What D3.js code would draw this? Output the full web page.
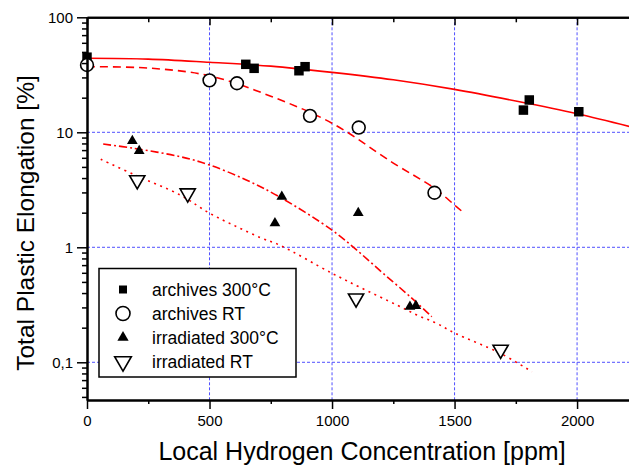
<!DOCTYPE html>
<html>
<head>
<meta charset="utf-8">
<script src="https://cdn.jsdelivr.net/npm/d3@7"></script>
<style>
  body { margin: 0; background: #fff; }
  text { font-family: "Liberation Sans", Arial, sans-serif; }
</style>
</head>
<body>
<div id="chart"></div>
<script>
// measured points [H ppm, elongation %]
const archives300 = [[0,45],[648,39],[682,36],[865,34.3],[890,37.2],[1781,15.6],[1805,19.1],[2007,15.1]];
const archivesRT = [[0,38.5],[500,28.3],[612,26.7],[910,13.9],[1109,11.0],[1418,2.98]];
const irradiated300 = [[185,8.4],[213,6.9],[795,2.75],[767,1.62],[1107,1.99],[1318,0.304],[1342,0.31]];
const irradiatedRT = [[205,3.84],[411,2.95],[1098,0.36],[1688,0.129]];

// fitted trend lines
const fitArchives300 = [[0,44],[250,43.3],[500,40.6],[750,37.6],[1000,33.2],[1250,28.6],[1500,23.6],[1750,18.7],[2000,14.5],[2216,11.2]];
const fitArchivesRT = [[0,37.2],[250,36.2],[500,31],[750,20.6],[1000,12],[1250,5.4],[1418,3.26],[1500,2.33],[1532,2.04]];
const fitIrr300 = [[66,7.9],[190,7.26],[380,6.14],[500,5.2],[650,3.85],[790,2.71],[1000,1.41],[1100,0.95],[1210,0.59],[1320,0.37],[1407,0.249]];
const fitIrrRT = [[56,5.82],[196,4.25],[380,2.85],[500,1.98],[611,1.51],[713,1.2],[788,1.04],[1000,0.594],[1114,0.449],[1264,0.315],[1346,0.258],[1427,0.218],[1502,0.179],[1686,0.12],[1815,0.083]];

const xMajor = [0, 500, 1000, 1500, 2000];
const xMinor = [250, 750, 1250, 1750];
const yMajor = [0.1, 1, 10, 100];
const yLabels = ["0,1", "1", "10", "100"];
const legendNames = ["archives 300°C", "archives RT", "irradiated 300°C", "irradiated RT"];

const width = 629, height = 466;
const plotLeft = 87, plotTop = 17.3, plotBottom = 400, plotRight = 630;

const svg = d3.select("#chart").append("svg")
    .attr("width", width)
    .attr("height", height);

svg.append("rect").attr("width", width).attr("height", height).attr("fill", "#fff");

const x = d3.scaleLinear().domain([0, 2216]).range([plotLeft, plotRight]);
const y = d3.scaleLog().domain([0.047, 100]).range([plotBottom, plotTop]);

let yMinor = [];
[0.01, 0.1, 1, 10].forEach(d => {
    for (let k = 2; k <= 9; k++) {
        let v = +(d * k).toPrecision(3);
        if (v >= 0.05 && v < 100) yMinor.push(v);
    }
});

// grid
const grid = svg.append("g")
    .attr("stroke", "#5050ff")
    .attr("stroke-width", 1)
    .attr("stroke-dasharray", "3,2");
grid.selectAll(".vg").data(xMajor.slice(1)).join("line")
    .attr("class", "vg")
    .attr("x1", d => x(d)).attr("x2", d => x(d))
    .attr("y1", plotTop).attr("y2", plotBottom);
grid.selectAll(".hg").data(yMajor.slice(0, 3)).join("line")
    .attr("class", "hg")
    .attr("x1", plotLeft).attr("x2", plotRight)
    .attr("y1", d => y(d)).attr("y2", d => y(d));

// fit lines
svg.append("clipPath").attr("id", "plotclip")
    .append("rect").attr("x", plotLeft).attr("y", plotTop)
    .attr("width", plotRight - plotLeft).attr("height", plotBottom - plotTop);

const line = d3.line()
    .x(d => x(d[0]))
    .y(d => y(d[1]))
    .curve(d3.curveCatmullRom);

const fits = [
    {data: fitArchives300, dash: null},
    {data: fitArchivesRT, dash: "8,5"},
    {data: fitIrr300, dash: "8,3,2,3"},
    {data: fitIrrRT, dash: "2,4.5"}
];
fits.forEach(f => {
    svg.append("path")
        .attr("clip-path", "url(#plotclip)")
        .attr("d", line(f.data))
        .attr("fill", "none")
        .attr("stroke", "#ff0000")
        .attr("stroke-width", 1.6)
        .attr("stroke-dasharray", f.dash);
});

// markers
function drawMarker(g, kind, cx, cy, legend) {
    if (kind === 0) {
        g.append("path")
            .attr("d", d3.symbol().type(d3.symbolSquare).size(legend ? 64 : 90)())
            .attr("transform", `translate(${cx},${cy})`)
            .attr("fill", "#000");
    } else if (kind === 1) {
        g.append("circle")
            .attr("cx", cx).attr("cy", cy).attr("r", legend ? 7 : 6.4)
            .attr("fill", "#fff").attr("stroke", "#000").attr("stroke-width", 1.6);
    } else if (kind === 2) {
        g.append("path")
            .attr("d", d3.symbol().type(d3.symbolTriangle).size(legend ? 55 : 50)())
            .attr("transform", `translate(${cx},${cy})`)
            .attr("fill", "#000");
    } else {
        g.append("path")
            .attr("d", d3.symbol().type(d3.symbolTriangle).size(legend ? 120 : 100)())
            .attr("transform", `translate(${cx},${cy}) rotate(180)`)
            .attr("fill", "#fff").attr("stroke", "#000").attr("stroke-width", 1.6);
    }
}

const pts = svg.append("g");
[archives300, archivesRT, irradiated300, irradiatedRT].forEach((series, i) => {
    series.forEach(d => drawMarker(pts, i, x(d[0]), y(d[1]), false));
});

// axes
function styleAxis(g) {
    g.select(".domain").attr("stroke-width", 2);
    g.selectAll(".tick line").attr("stroke-width", 1.5);
    g.selectAll("text")
        .attr("font-family", "Liberation Sans, Arial, sans-serif")
        .attr("font-size", 15)
        .attr("fill", "#000");
}

svg.append("g").attr("transform", `translate(0,${plotBottom})`)
    .call(d3.axisBottom(x).tickValues(xMinor).tickSize(4).tickSizeOuter(0).tickFormat(""))
    .call(styleAxis);
svg.append("g").attr("transform", `translate(0,${plotBottom})`)
    .call(d3.axisBottom(x).tickValues(xMajor).tickSize(9).tickSizeOuter(0).tickPadding(6).tickFormat(d3.format("d")))
    .call(styleAxis);

svg.append("g").attr("transform", `translate(0,${plotTop})`)
    .call(d3.axisTop(x).tickValues(xMinor).tickSize(-5).tickSizeOuter(0).tickFormat(""))
    .call(styleAxis);
svg.append("g").attr("transform", `translate(0,${plotTop})`)
    .call(d3.axisTop(x).tickValues(xMajor).tickSize(-8).tickSizeOuter(0).tickFormat(""))
    .call(styleAxis);

svg.append("g").attr("transform", `translate(${plotLeft},0)`)
    .call(d3.axisLeft(y).tickValues(yMinor).tickSize(5).tickSizeOuter(0).tickFormat(""))
    .call(styleAxis);
svg.append("g").attr("transform", `translate(${plotLeft},0)`)
    .call(d3.axisLeft(y).tickValues(yMajor).tickSize(10).tickSizeOuter(0).tickPadding(4)
        .tickFormat((d, i) => yLabels[i]))
    .call(styleAxis);

// axis titles
svg.append("text")
    .attr("x", 362).attr("y", 460)
    .attr("text-anchor", "middle")
    .attr("font-size", 25)
    .text("Local Hydrogen Concentration [ppm]");

svg.append("text")
    .attr("transform", "translate(34,223) rotate(-90)")
    .attr("text-anchor", "middle")
    .attr("font-size", 24.5)
    .text("Total Plastic Elongation [%]");

// legend
const legend = svg.append("g");
legend.append("rect")
    .attr("x", 99).attr("y", 268.5)
    .attr("width", 197).attr("height", 108.5)
    .attr("fill", "#fff").attr("stroke", "#000").attr("stroke-width", 1.5);

legendNames.forEach((name, i) => {
    let cy = 289.5 + i * 24;
    drawMarker(legend, i, 123, cy, true);
    legend.append("text")
        .attr("x", 152).attr("y", cy + 6)
        .attr("font-size", 17.5)
        .text(name);
});
</script>
</body>
</html>
